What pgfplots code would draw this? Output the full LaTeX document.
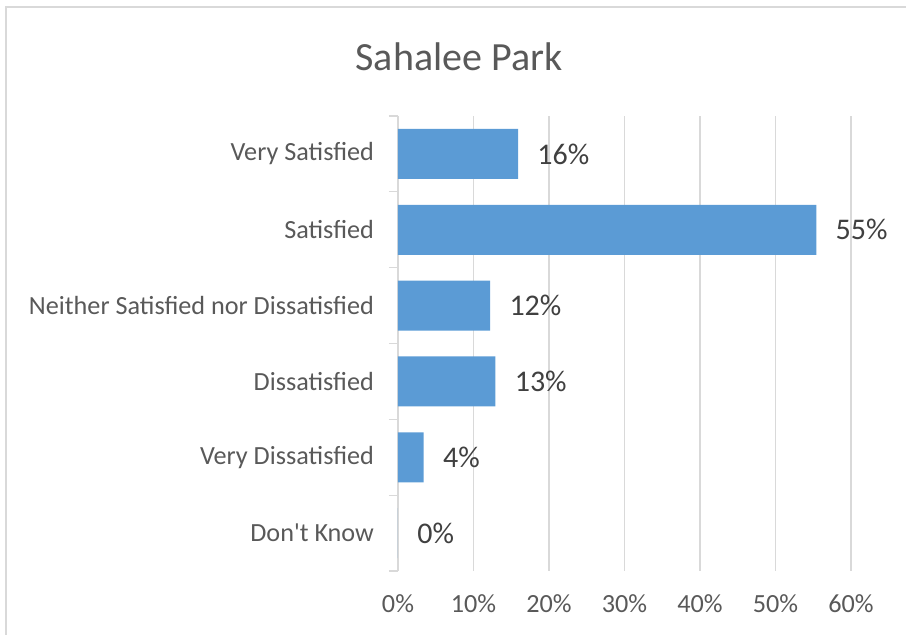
\documentclass[border=0pt]{standalone}
\usepackage{pgfplots}
\usepackage{pgfplotstable}
\pgfplotsset{compat=1.18}
\usepackage{fontspec}
\setmainfont{Carlito}
\definecolor{barblue}{HTML}{5B9BD5}
\definecolor{txtgray}{HTML}{595959}
\definecolor{lblgray}{HTML}{404040}
\definecolor{gridgray}{HTML}{D9D9D9}
\pgfplotstableread{
pos val lab
0 15.9 16
1 55.4 55
2 12.2 12
3 12.9 13
4 3.4 4
5 0 0
}\data
\begin{document}
\begin{tikzpicture}
\useasboundingbox (0,0) rectangle (453pt,-317.5pt);
\draw[gridgray, line width=1.2pt] (3pt,-317.5pt) -- (3pt,-3.5pt) -- (453pt,-3.5pt);
\node[text=txtgray, font=\fontsize{20}{24}\selectfont, anchor=center] at (229.5pt,-28.5pt) {Sahalee Park};
\begin{axis}[
  at={(199pt,-285.5pt)}, anchor=south west,
  scale only axis, width=226.5pt, height=227.5pt,
  xbar, bar width=25pt,
  xmin=0, xmax=60, ymin=-0.5, ymax=5.5,
  y dir=reverse,
  axis y line*=left, axis x line*=bottom,
  x axis line style={draw=none},
  y axis line style={draw=gridgray, line width=0.6pt},
  xtick={0,10,20,30,40,50,60},
  xticklabels={0\%,10\%,20\%,30\%,40\%,50\%,60\%},
  ytick={0,1,2,3,4,5},
  yticklabels={Very Satisfied,Satisfied,Neither Satisfied nor Dissatisfied,Dissatisfied,Very Dissatisfied,Don\textquotesingle t Know},
  minor ytick={-0.5,0.5,1.5,2.5,3.5,4.5,5.5},
  major tick length=0pt,
  minor tick length=4.5pt,
  minor tick style={draw=gridgray, line width=0.6pt},
  tick align=outside,
  xmajorgrids, major grid style={draw=gridgray, line width=0.6pt},
  ticklabel style={font=\fontsize{13.1}{15}\selectfont, text=txtgray},
  xticklabel style={yshift=-8.5pt},
  yticklabel style={xshift=-8.5pt},
  /pgf/number format/assume math mode=true,
  point meta=explicit,
  nodes near coords={\pgfmathprintnumber[fixed,precision=0]{\pgfplotspointmeta}\%},
  nodes near coords style={anchor=west, inner sep=0pt, xshift=9.5pt, font=\fontsize{15}{18}\selectfont, text=lblgray},
]
\addplot[fill=barblue, draw=none] table[x=val, y=pos, meta=lab] {\data};
\end{axis}
\end{tikzpicture}
\end{document}
